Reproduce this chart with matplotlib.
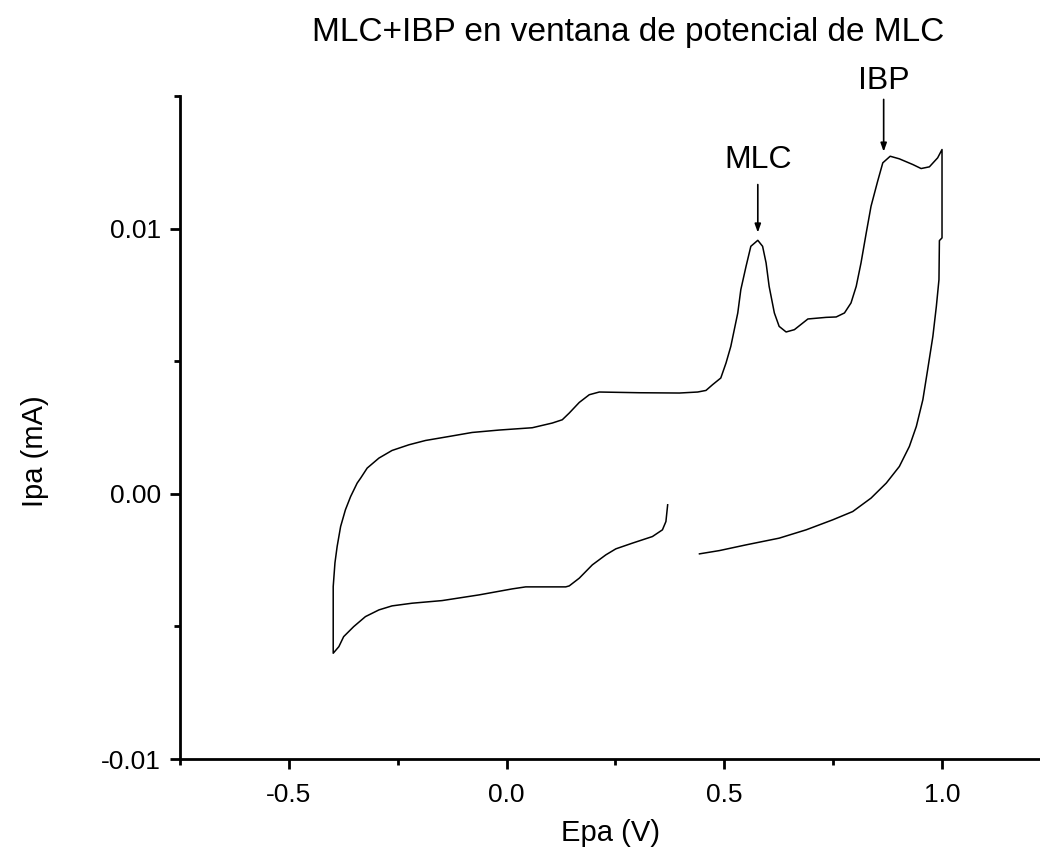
import matplotlib.pyplot as plt
from matplotlib.ticker import MultipleLocator, FormatStrFormatter

plt.rcParams["font.family"] = ["Liberation Sans", "DejaVu Sans"]
plt.rcParams["axes.unicode_minus"] = False

# =====================================
# Voltammogram data
# =====================================

# potential (V), scan starts at 0.37 V going negative, then up to 1.0 V and back
epa = [
    0.370, 0.366, 0.358, 0.335, 0.289, 0.251, 0.228, 0.197, 0.167, 0.144,
    0.136, 0.044, 0.013, -0.063, -0.148, -0.217, -0.263, -0.293, -0.324, -0.351,
    -0.374, -0.385, -0.398,
    -0.398, -0.394, -0.389, -0.381, -0.370, -0.358, -0.343, -0.335, -0.320, -0.293,
    -0.263, -0.224, -0.186, -0.132, -0.079, -0.017, 0.059, 0.105, 0.128, 0.144,
    0.167, 0.190, 0.213, 0.305, 0.397, 0.439, 0.458, 0.473, 0.492, 0.504,
    0.515, 0.523, 0.531, 0.538, 0.550, 0.561, 0.577, 0.588, 0.596, 0.603,
    0.615, 0.626, 0.642, 0.661, 0.692, 0.734, 0.757, 0.776, 0.791, 0.803,
    0.814, 0.826, 0.837, 0.852, 0.864, 0.881, 0.902, 0.933, 0.952, 0.971,
    0.990, 1.000,
    1.000, 0.994, 0.993, 0.987, 0.979, 0.967, 0.956, 0.941, 0.925, 0.902,
    0.872, 0.837, 0.795, 0.749, 0.688, 0.626, 0.550, 0.489, 0.443,
]

# current (mA)
ipa = [
    -0.000415, -0.001045, -0.001358, -0.001611, -0.001860, -0.002075, -0.002302,
    -0.002679, -0.003181, -0.003472, -0.003509, -0.003509, -0.003585, -0.003811,
    -0.004026, -0.004125, -0.004226, -0.004377, -0.004630, -0.005008, -0.005385,
    -0.005762, -0.006011,
    -0.003498, -0.002604, -0.001989, -0.001234, -0.000604, -0.000102, 0.000404,
    0.000592, 0.000970, 0.001347, 0.001634, 0.001849, 0.002011, 0.002162,
    0.002313, 0.002404, 0.002491, 0.002668, 0.002792, 0.003045, 0.003445,
    0.003736, 0.003838, 0.003811, 0.003800, 0.003838, 0.003898, 0.004113,
    0.004366, 0.004932, 0.005558, 0.006189, 0.006819, 0.007698, 0.008577,
    0.009332, 0.009558, 0.009332, 0.008706, 0.007823, 0.006819, 0.006313,
    0.006102, 0.006189, 0.006592, 0.006653, 0.006668, 0.006819, 0.007196,
    0.007823, 0.008706, 0.009838, 0.010842, 0.011774, 0.012479, 0.012728,
    0.012630, 0.012415, 0.012264, 0.012328, 0.012668, 0.012981,
    0.009649, 0.009547, 0.008075, 0.007068, 0.005936, 0.004679, 0.003547,
    0.002540, 0.001785, 0.001030, 0.000404, -0.000162, -0.000668, -0.000981,
    -0.001358, -0.001672, -0.001925, -0.002140, -0.002264,
]

# peak labels: name, potential, arrow tip, arrow tail, text position
peak_names = ["MLC", "IBP"]
peak_epa = [0.577, 0.866]
peak_tip = [0.00985, 0.0129]
peak_tail = [0.01166, 0.01487]
peak_text = [0.0126, 0.01555]

# =====================================
# Chart
# =====================================

fig = plt.figure(figsize=(10.4, 8.6), dpi=100)
ax = fig.add_axes([0.173, 0.1174, 0.827, 0.771])

ax.plot(epa, ipa, color="black", linewidth=1.1)

for name, x, tip, tail, ty in zip(peak_names, peak_epa, peak_tip, peak_tail, peak_text):
    ax.annotate(
        "",
        xy=(x, tip),
        xytext=(x, tail),
        arrowprops=dict(
            arrowstyle="-|>,head_length=0.5,head_width=0.18",
            color="black",
            linewidth=1.2,
            shrinkA=0,
            shrinkB=0,
        ),
        annotation_clip=False,
    )
    ax.text(x, ty, name, ha="center", va="center", fontsize=23, clip_on=False)

ax.set_xlim(-0.75, 1.225)
ax.set_ylim(-0.01, 0.015)

ax.xaxis.set_major_locator(MultipleLocator(0.5))
ax.xaxis.set_minor_locator(MultipleLocator(0.25))
ax.yaxis.set_major_locator(MultipleLocator(0.01))
ax.yaxis.set_minor_locator(MultipleLocator(0.005))
ax.xaxis.set_major_formatter(FormatStrFormatter("%.1f"))
ax.yaxis.set_major_formatter(FormatStrFormatter("%.2f"))

ax.spines["top"].set_visible(False)
ax.spines["right"].set_visible(False)
ax.spines["left"].set_linewidth(2.0)
ax.spines["bottom"].set_linewidth(2.0)

ax.tick_params(which="major", direction="out", length=7.5, width=2.0, labelsize=19)
ax.tick_params(which="minor", direction="out", length=4.5, width=2.0)
ax.tick_params(axis="x", which="major", pad=10)
ax.tick_params(axis="y", which="major", pad=6)

# axis labels sit a little off-centre in the original
fig.text(0.587, 0.031, "Epa (V)", ha="center", va="center", fontsize=21)
fig.text(0.034, 0.475, "Ipa (mA)", ha="center", va="center", fontsize=21, rotation=90)

fig.text(0.604, 0.962, "MLC+IBP en ventana de potencial de MLC",
         ha="center", va="center", fontsize=24)

plt.savefig("out.png")
plt.close()
